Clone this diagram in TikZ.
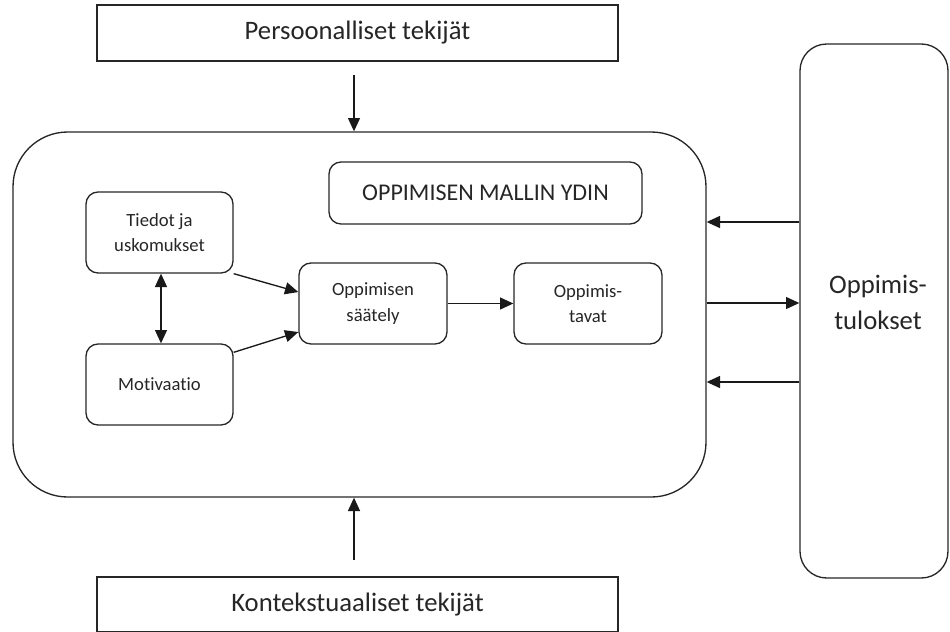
\documentclass[tikz,border=0pt]{standalone}
\usepackage{fontspec}
\setmainfont{Carlito}[Ligatures=NoCommon]
\usetikzlibrary{arrows.meta}
\begin{document}
\begin{tikzpicture}[x=0.75pt,y=-0.75pt,
  box/.style={draw=black!85,line width=1pt,inner sep=0pt,align=center,text=black!85},
  sqbox/.style={box,rectangle},
  rbox/.style={box,rounded corners=9pt},
  big/.style={font=\fontsize{20}{25}\selectfont},
  mid/.style={font=\fontsize{18}{22}\selectfont},
  small/.style={font=\fontsize{14}{19}\selectfont},
  arr/.style={draw=black!90,line width=1pt,-{Triangle[length=10pt,width=9pt]}},
  darr/.style={draw=black!90,line width=1pt,{Triangle[length=10pt,width=9pt]}-{Triangle[length=10pt,width=9pt]}}]
\useasboundingbox (0,0) rectangle (950,632);
% outer boxes
\node[sqbox,big,minimum width=390.75pt,minimum height=42pt] (top) at (357.5,33) {Persoonalliset tekijät};
\node[sqbox,big,minimum width=390.75pt,minimum height=41.25pt] (bot) at (357.5,604.5) {Kontekstuaaliset tekijät};
\node[box,rounded corners=41pt,minimum width=519.75pt,minimum height=273.75pt] (core) at (359.5,314.5) {};
\node[box,big,rounded corners=20pt,minimum width=111pt,minimum height=400.5pt] (out) at (874,311) {};
\node[big,align=center,text=black!85] (outtext) at (878,302) {Oppimis-\\[2pt]tulokset};
% inner boxes
\node[rbox,mid,minimum width=234.75pt,minimum height=46.5pt] (ydin) at (485.5,193) {OPPIMISEN MALLIN YDIN};
\node[rbox,small,minimum width=110.25pt,minimum height=60.75pt] (tiedot) at (159.5,232.5) {Tiedot ja\\uskomukset};
\node[rbox,small,minimum width=110.25pt,minimum height=60.75pt] (moti) at (159.5,384.5) {Motivaatio};
\node[rbox,small,minimum width=111pt,minimum height=60.75pt] (saat) at (373,303.5) {Oppimisen\\säätely};
\node[rbox,small,minimum width=111pt,minimum height=60.75pt] (tavat) at (588,303.5) {Oppimis-\\tavat};
% free ends
\coordinate (tA) at (354,75);
\coordinate (bA) at (354,560);
% connectors
\draw[arr] (tA) -- (tA |- core.north);
\draw[arr] (bA) -- (bA |- core.south);
\draw[arr] (tiedot.south east) -- ([yshift=8.6pt]saat.west);
\draw[arr] ([yshift=-6.75pt]moti.north east) -- ([yshift=-21.4pt]saat.west);
\draw[darr] (tiedot.south -| 161,0) -- (moti.north -| 161,0);
\draw[arr] (saat.east) -- (tavat.east -| tavat.west);
\coordinate (r1) at (800,222);
\coordinate (r2) at (706,303);
\coordinate (r3) at (800,382);
\draw[arr] (out.west |- r1) -- (core.east |- r1);
\draw[arr] (core.east |- r2) -- (out.west |- r2);
\draw[arr] (out.west |- r3) -- (core.east |- r3);
\end{tikzpicture}
\end{document}
